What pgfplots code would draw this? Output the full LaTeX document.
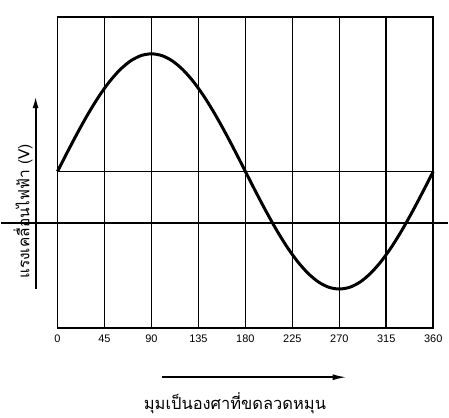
\documentclass[border=0pt]{standalone}
\usepackage{pgfplots}
\pgfplotsset{compat=1.18}
\usepackage{fontspec}
\setmainfont{Liberation Sans}
\newfontfamily\thaifont[Script=Thai]{Loma}
\usetikzlibrary{arrows.meta}

\begin{document}
\begin{tikzpicture}
\begin{axis}[
  scale only axis,
  width=377pt, height=311.5pt,
  xmin=0, xmax=360, ymin=-1.33, ymax=1.31,
  axis line style={line width=1.8pt},
  xtick={0,45,...,360},
  ytick=\empty,
  major tick length=0pt,
  xmajorgrids,
  grid style={black, line width=1.6pt},
  xticklabel style={font=\fontsize{11}{13}\selectfont, yshift=-4pt},
  /pgf/number format/assume math mode=true,
  clip=false,
]
% zero line
\addplot[black, line width=1.5pt] coordinates {(0,0) (360,0)};
% sine wave (e.m.f.)
\addplot[black, line width=3pt, smooth] coordinates {
(0,0) (10,0.174) (20,0.342) (30,0.5) (40,0.643) (50,0.766) (60,0.866)
(70,0.940) (80,0.985) (90,1) (100,0.985) (110,0.940) (120,0.866)
(130,0.766) (140,0.643) (150,0.5) (160,0.342) (170,0.174) (180,0)
(190,-0.174) (200,-0.342) (210,-0.5) (220,-0.643) (230,-0.766) (240,-0.866)
(250,-0.940) (260,-0.985) (270,-1) (280,-0.985) (290,-0.940) (300,-0.866)
(310,-0.766) (320,-0.643) (330,-0.5) (340,-0.342) (350,-0.174) (360,0)};
% long horizontal line across the page
\addplot[black, line width=1.5pt] coordinates {(-54.4,-0.44) (374.4,-0.44)};
% arrows
\addplot[black, line width=1.8pt, -{Latex[length=12pt,width=6pt]}] coordinates {(-21,-1.0) (-21,0.64)};
\addplot[black, line width=1.8pt, -{Latex[length=14pt,width=6pt]}] coordinates {(100,-1.75) (277,-1.75)};
% labels
\node[rotate=90, font=\thaifont\fontsize{15.5}{18}\selectfont] at (axis cs:-33,-0.34) {แรงเคลื่อนไฟฟ้า (V)};
\node[font=\thaifont\fontsize{16.5}{19}\selectfont] at (axis cs:170,-1.97) {มุมเป็นองศาที่ขดลวดหมุน};
% page extent
\path (axis cs:-54.4,1.458) rectangle (axis cs:374.4,-2.093);
\end{axis}
\end{tikzpicture}
\end{document}
